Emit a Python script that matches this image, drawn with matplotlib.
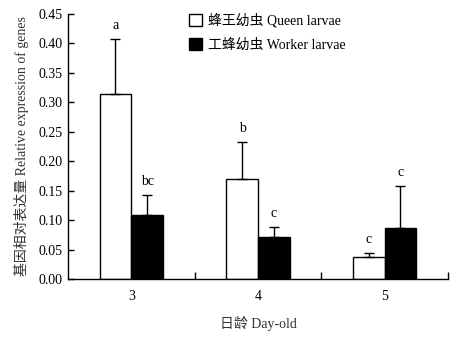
import matplotlib.pyplot as plt
import numpy as np
from matplotlib.patches import Patch

# Data
days = ['3', '4', '5']
queen = [0.314, 0.169, 0.037]
queen_err = [0.093, 0.064, 0.007]
worker = [0.109, 0.071, 0.087]
worker_err = [0.033, 0.017, 0.071]
queen_letters = ['a', 'b', 'c']
worker_letters = ['bc', 'c', 'c']

plt.rcParams['font.family'] = ['Liberation Serif', 'Noto Sans CJK SC']

fig = plt.figure(figsize=(4.58, 3.38), dpi=100)
ax = fig.add_axes([68 / 458, 1 - 279 / 338, 380 / 458, 265 / 338])

x = np.arange(len(days))
w = 0.25
err_kw = dict(ecolor='black', elinewidth=1, capsize=3.5, capthick=1)
ax.bar(x - w / 2, queen, w, color='white', edgecolor='black', linewidth=1,
       yerr=[np.zeros(3), queen_err], error_kw=err_kw)
ax.bar(x + w / 2, worker, w, color='black', edgecolor='black', linewidth=1,
       yerr=[np.zeros(3), worker_err], error_kw=err_kw)

# significance letters
for i in range(len(days)):
    ax.text(x[i] - w / 2, queen[i] + queen_err[i] + 0.012, queen_letters[i],
            ha='center', va='bottom', fontsize=10)
    ax.text(x[i] + w / 2, worker[i] + worker_err[i] + 0.012, worker_letters[i],
            ha='center', va='bottom', fontsize=10)

ax.set_xlim(-0.5, 2.5)
ax.set_ylim(0, 0.45)
ax.set_yticks(np.arange(0, 0.451, 0.05))
ax.set_yticklabels([f'{v:.2f}' for v in np.arange(0, 0.451, 0.05)])
ax.set_xticks(x)
ax.set_xticklabels(days)
ax.set_xticks([0.5, 1.5, 2.5], minor=True)
ax.tick_params(axis='x', which='major', length=0, pad=8, labelsize=10)
ax.tick_params(axis='x', which='minor', direction='in', length=5, width=1)
ax.tick_params(axis='y', direction='in', length=4, width=1, labelsize=10, pad=4)

for side in ['top', 'right']:
    ax.spines[side].set_visible(False)
for side in ['left', 'bottom']:
    ax.spines[side].set_linewidth(1)

ax.set_ylabel('基因相对表达量 Relative expression of genes', fontsize=10,
              color='#333333', labelpad=7)
ax.set_xlabel('日龄 Day-old', fontsize=10, color='#333333', labelpad=9)

handles = [Patch(facecolor='white', edgecolor='black', label='蜂王幼虫 Queen larvae'),
           Patch(facecolor='black', edgecolor='black', label='工蜂幼虫 Worker larvae')]
fig.legend(handles=handles, loc='upper left', bbox_to_anchor=(189 / 458, 1 - 13 / 338),
           frameon=False, fontsize=10, handlelength=0.9, handleheight=0.9,
           handletextpad=0.5, labelspacing=0.75, borderpad=0, borderaxespad=0)

fig.savefig('out.png', dpi=100)
